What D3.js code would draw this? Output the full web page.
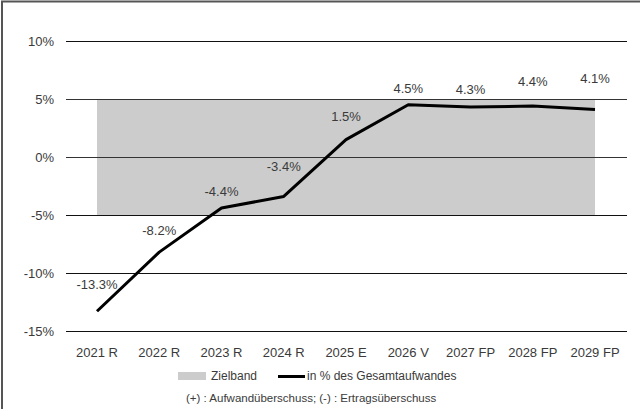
<!DOCTYPE html>
<html>
<head>
<meta charset="utf-8">
<script src="https://cdn.jsdelivr.net/npm/d3@7"></script>
<style>
  body { margin: 0; background: #fff; }
  text { font-family: "Liberation Sans", Arial, sans-serif; }
</style>
</head>
<body>
<div id="chart"></div>
<script>
// Chart data
const categories = ["2021 R", "2022 R", "2023 R", "2024 R", "2025 E", "2026 V", "2027 FP", "2028 FP", "2029 FP"];
const values = [-13.3, -8.2, -4.4, -3.4, 1.5, 4.5, 4.3, 4.4, 4.1];
const bandLow = [-5, -5, -5, -5, -5, -5, -5, -5, -5];
const bandHigh = [5, 5, 5, 5, 5, 5, 5, 5, 5];
const yTicks = [-15, -10, -5, 0, 5, 10];

// label offsets above the points (layout only)
const labelDy = [-22, -17, -12, -25, -19, -12, -13, -20, -26];

const width = 640;
const height = 409;

const svg = d3.select("#chart").append("svg")
    .attr("width", width)
    .attr("height", height);

// frame
svg.append("path")
    .attr("d", "M2,409 V1.5 H640")
    .attr("fill", "none")
    .attr("stroke", "#555")
    .attr("stroke-width", 2);

const x = d3.scalePoint()
    .domain(categories)
    .range([97, 595]);

const y = d3.scaleLinear()
    .domain([-15, 10])
    .range([331, 41]);

const plotLeft = 66, plotRight = 627;

// gridlines
svg.append("g").selectAll("line")
    .data(yTicks)
    .enter().append("line")
    .attr("x1", plotLeft)
    .attr("x2", plotRight)
    .attr("y1", d => Math.round(y(d)) + 0.5)
    .attr("y2", d => Math.round(y(d)) + 0.5)
    .attr("stroke", "#111")
    .attr("stroke-width", 1);

// target band
const bandData = categories.map((c, i) => ({ c, lo: bandLow[i], hi: bandHigh[i] }));
svg.append("path")
    .datum(bandData)
    .attr("fill", "#cccccc")
    .attr("d", d3.area()
        .x(d => x(d.c))
        .y0(d => y(d.lo))
        .y1(d => y(d.hi)));

// redraw gridlines that run through the band
svg.append("g").selectAll("line")
    .data(yTicks.filter(t => t > -5 && t <= 5))
    .enter().append("line")
    .attr("x1", plotLeft)
    .attr("x2", plotRight)
    .attr("y1", d => Math.round(y(d)) + 0.5)
    .attr("y2", d => Math.round(y(d)) + 0.5)
    .attr("stroke", "#333")
    .attr("stroke-width", 1);

// y axis labels
svg.append("g").selectAll("text")
    .data(yTicks)
    .enter().append("text")
    .attr("x", 54)
    .attr("y", d => y(d))
    .attr("dy", "0.35em")
    .attr("text-anchor", "end")
    .attr("font-size", 13)
    .attr("fill", "#3a3a3a")
    .text(d => d + "%");

// x axis labels
svg.append("g").selectAll("text")
    .data(categories)
    .enter().append("text")
    .attr("x", d => x(d))
    .attr("y", 352)
    .attr("dy", "0.35em")
    .attr("text-anchor", "middle")
    .attr("font-size", 13)
    .attr("fill", "#3a3a3a")
    .text(d => d);

// line
const lineData = categories.map((c, i) => ({ c, v: values[i] }));
svg.append("path")
    .datum(lineData)
    .attr("fill", "none")
    .attr("stroke", "#000")
    .attr("stroke-width", 3)
    .attr("stroke-linejoin", "round")
    .attr("d", d3.line()
        .x(d => x(d.c))
        .y(d => y(d.v)));

// data labels
svg.append("g").selectAll("text")
    .data(lineData)
    .enter().append("text")
    .attr("x", d => x(d.c))
    .attr("y", (d, i) => y(d.v) + labelDy[i])
    .attr("text-anchor", "middle")
    .attr("font-size", 13)
    .attr("fill", "#3a3a3a")
    .text(d => d.v.toFixed(1) + "%");

// legend
const legend = svg.append("g");
legend.append("rect")
    .attr("x", 178).attr("y", 372)
    .attr("width", 28).attr("height", 8)
    .attr("fill", "#cccccc");
legend.append("text")
    .attr("x", 211).attr("y", 376)
    .attr("dy", "0.35em")
    .attr("font-size", 12)
    .attr("fill", "#3a3a3a")
    .text("Zielband");
legend.append("line")
    .attr("x1", 278).attr("x2", 305)
    .attr("y1", 376.5).attr("y2", 376.5)
    .attr("stroke", "#000")
    .attr("stroke-width", 3);
legend.append("text")
    .attr("x", 307).attr("y", 376)
    .attr("dy", "0.35em")
    .attr("font-size", 12)
    .attr("fill", "#3a3a3a")
    .text("in % des Gesamtaufwandes");

// footnote
svg.append("text")
    .attr("x", 186).attr("y", 398)
    .attr("dy", "0.35em")
    .attr("font-family", "Lato, sans-serif")
    .attr("font-size", 11.5)
    .attr("fill", "#3a3a3a")
    .text("(+) : Aufwandüberschuss; (-) : Ertragsüberschuss");
</script>
</body>
</html>
